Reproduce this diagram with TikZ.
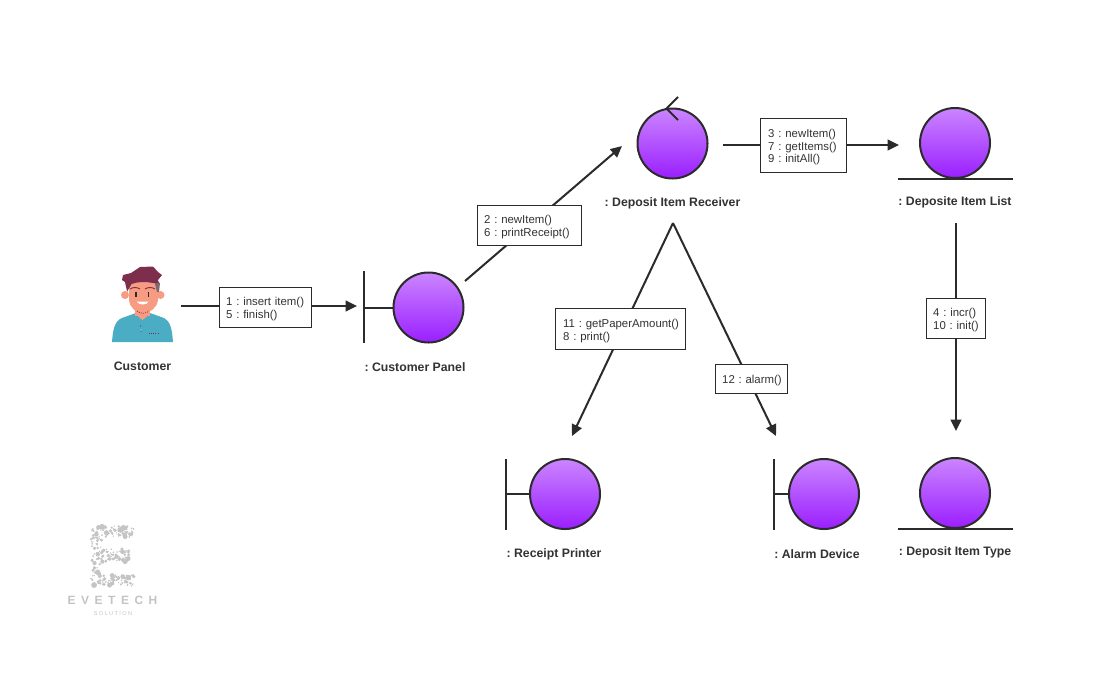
\documentclass[tikz,border=0pt]{standalone}
\usepackage{fontspec}
\setmainfont{Liberation Sans}
\usetikzlibrary{arrows.meta}
\definecolor{ink}{HTML}{2B2B2B}
\definecolor{txt}{HTML}{333333}
\definecolor{orbtop}{HTML}{CB85FF}
\definecolor{orbbot}{HTML}{9A1FFF}
\definecolor{logo}{HTML}{C4C4C4}
\definecolor{shirt}{HTML}{4AADC4}
\definecolor{skin}{HTML}{F79C82}
\definecolor{hair}{HTML}{7D2E4C}
\newcommand{\msgtop}[1]{\rule{0pt}{8.6pt}\mbox{#1}}
\tikzset{
  x=0.75pt,y=-0.75pt,
  orb/.style={circle,draw=ink,line width=1.5pt,minimum size=52.5pt,inner sep=0pt,top color=orbtop,bottom color=orbbot,shading angle=0},
  stroke/.style={draw=ink,line width=1.5pt},
  conn/.style={draw=ink,line width=1.5pt},
  connarrow/.style={conn,-{Triangle[length=8.5pt,width=8pt]}},
  msg/.style={draw=ink,line width=.75pt,fill=white,text=txt,font=\fontsize{8.55}{9.7}\selectfont\frenchspacing,align=left,inner xsep=5pt,inner ysep=0pt,anchor=north west},
  lbl/.style={text=txt,font=\fontsize{9.2}{11}\selectfont\bfseries\frenchspacing,inner sep=0pt},
}
\begin{document}
\begin{tikzpicture}
\useasboundingbox[fill=white] (0,0) rectangle (1112,676);

% connector end points
\coordinate (c1a) at (181,306); \coordinate (c1b) at (357,306);
\coordinate (c2a) at (465,281); \coordinate (c2b) at (622,146);
\coordinate (c3a) at (723,145); \coordinate (c3b) at (899,145);
\coordinate (c4a) at (956,223); \coordinate (c4b) at (956,431);
\coordinate (apex) at (673,223);
\coordinate (c5b) at (572,436); \coordinate (c6b) at (776,436);

\draw[connarrow] (c1a) -- (c1b);
\draw[connarrow] (c2a) -- (c2b);
\draw[connarrow] (c3a) -- (c3b);
\draw[connarrow] (c4a) -- (c4b);
\draw[connarrow] (apex) -- (c5b);
\draw[connarrow] (apex) -- (c6b);

% message boxes
\node[msg,text width=59pt,minimum height=30pt] (m1) at (219,287) {\msgtop{1 : insert item()}\\\mbox{5 : finish()}};
\node[msg,text width=68pt,minimum height=30pt] (m2) at (477,205) {\msgtop{2 : newItem()}\\\mbox{6 : printReceipt()}};
\node[msg,inner xsep=5.8pt,text width=53pt,minimum height=40.5pt] (m3) at (760,118) {\msgtop{3 : newItem()}\\\mbox{7 : getItems()}\\\mbox{9 : initAll()}};
\node[msg,text width=34pt,minimum height=30pt] (m4) at (926,298) {\msgtop{4 : incr()}\\\mbox{10 : init()}};
\node[msg,inner xsep=5.8pt,text width=86pt,minimum height=31pt] (m5) at (555,308) {\msgtop{11 : getPaperAmount()}\\\mbox{8 : print()}};
\node[msg,text width=44pt,minimum height=22pt] (m6) at (715,364) {\msgtop{12 : alarm()}};

% customer panel (boundary)
\node[orb] (panel) at (428.5,307.5) {};
\draw[stroke] (364,271) -- (364,343);
\coordinate (panelbar) at (364,307.5);
\draw[stroke] (panelbar) -- (panel.west);

% deposit item receiver (control)
\node[orb] (receiver) at (672.5,143.5) {};
\draw[stroke] (678,97) -- (666.5,108.5) -- (678,120);

% deposite item list (entity)
\node[orb] (list) at (955,143) {};
\coordinate (listL) at (898,178.5); \coordinate (listR) at (1013,178.5);
\draw[stroke] (listL) -- (listR);

% deposit item type (entity)
\node[orb] (type) at (955,493) {};
\coordinate (typeL) at (898,528.5); \coordinate (typeR) at (1013,528.5);
\draw[stroke] (typeL) -- (typeR);

% receipt printer (boundary)
\node[orb] (printer) at (565,494) {};
\draw[stroke] (506,459) -- (506,530);
\coordinate (printerbar) at (506,494);
\draw[stroke] (printerbar) -- (printer.west);

% alarm device (boundary)
\node[orb] (alarm) at (824,494) {};
\draw[stroke] (774,459) -- (774,530);
\coordinate (alarmbar) at (774,494);
\draw[stroke] (alarmbar) -- (alarm.west);

% labels
\node[lbl] (lcust) at (142.5,366) {Customer};
\node[lbl] (lpanel) at (415,367) {: Customer Panel};
\node[lbl] (lrecv) at (672.5,203.5) {: Deposit Item Receiver};
\node[lbl] (llist) at (955,202) {: Deposite Item List};
\node[lbl] (lprint) at (554,554) {: Receipt Printer};
\node[lbl] (lalarm) at (817,554) {: Alarm Device};
\node[lbl] (ltype) at (955,552) {: Deposit Item Type};

% customer figure
\fill[shirt] (112,342) .. controls (113,328) and (115,321) .. (122,318)
  -- (136,313) -- (150,313) -- (164,318) .. controls (170,321) and (172,328) .. (173,342) -- cycle;
\fill[skin] (135,305) rectangle (150,316);
\fill[skin] (142.5,320) -- (134,313) -- (151,313) -- cycle;
\fill[skin] (125,295) circle (4);
\fill[skin] (160.5,295) circle (4);
\fill[skin] (129,282) -- (158,282) -- (158,300) .. controls (157,308) and (150,313) .. (143,313)
  .. controls (136,313) and (130,308) .. (129,300) -- cycle;
\fill[gray!70!hair] (154,280) -- (160,283) -- (159,292) -- (157,292) -- cycle;
\fill[gray!70!hair] (127,285) -- (131,285) -- (127,292) -- cycle;
\fill[hair] (123,275) -- (131,273) -- (140,267) -- (153,266.5) -- (158,272) -- (162,275) -- (158,280) -- (159,283)
  -- (153,283) .. controls (146,281.5) and (138,281.5) .. (131.5,284) -- (127,291) -- (125,282) -- (122,280) -- cycle;
\draw[hair,line width=.7pt] (130,289) .. controls (133,287) and (137,287) .. (140,289);
\draw[hair,line width=.7pt] (145,289) .. controls (148,287) and (152,287) .. (155,289);
\fill[ink] (135.2,292) rectangle (136.7,296.5);
\fill[ink] (147.6,292) rectangle (149.1,296.5);
\fill[white] (136.5,301.5) -- (148.5,301.5) .. controls (147,305.5) and (139,305.5) .. (136.5,301.5) -- cycle;
\draw[hair,line width=.5pt,dash pattern=on .8pt off .8pt] (137,311) .. controls (140,314) and (146,314) .. (149,311);
\draw[hair,line width=.5pt,dash pattern=on .8pt off .8pt] (149,333.5) -- (158,333.5);
\fill[hair] (140.5,326) circle (.7);
\fill[white!70!shirt] (141,330) circle (.7);
\fill[ink] (141,331) circle (.5);

% logo
\pgfmathsetseed{11}
\foreach \xa/\xb/\ya/\yb/\n in {91/102/526/586/85,102/134/526/537/60,102/129/549/562/55,102/135/575/586/60}{
  \foreach \i in {1,...,\n}{
    \pgfmathsetmacro{\px}{\xa+(\xb-\xa)*rnd}
    \pgfmathsetmacro{\py}{\ya+(\yb-\ya)*rnd}
    \pgfmathsetmacro{\pr}{0.7+2.4*rnd*rnd}
    \fill[logo] (\px,\py) circle (\pr);
  }
}
\node[text=logo,inner sep=0pt,font=\fontsize{9}{10}\selectfont\bfseries\addfontfeature{LetterSpace=46}] (logoname) at (112.5,600.5) {EVETECH};
\node[text=logo,inner sep=0pt,font=\fontsize{4.2}{5}\selectfont\addfontfeature{LetterSpace=25}] (logosub) at (113,613.5) {SOLUTION};
\end{tikzpicture}
\end{document}
